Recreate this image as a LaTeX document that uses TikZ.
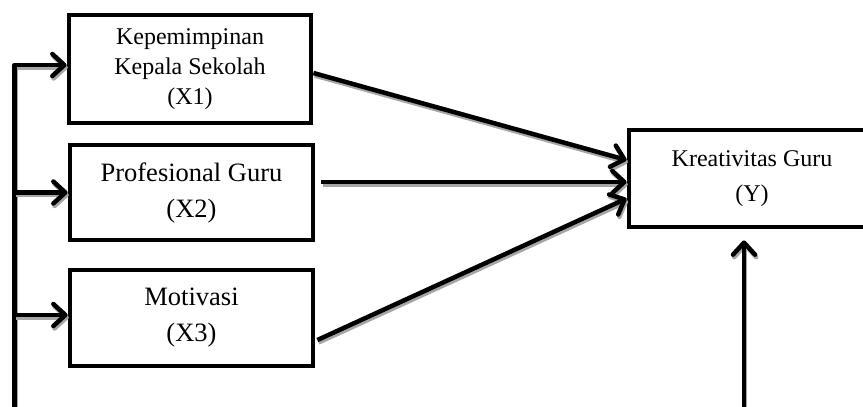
\documentclass[tikz,border=0pt]{standalone}
\usepackage{fontspec}
\setmainfont{Liberation Serif}
\usetikzlibrary{arrows.meta,calc}
\tikzset{
  box/.style={draw, line width=4.8pt, inner sep=0pt, align=center},
  ln/.style={line width=4.5pt, line join=round,
    -{Straight Barb[length=12pt,width=22pt,line cap=round,line join=round]}},
  shd/.style={ln, draw=black!35, transform canvas={shift={(1.2pt,-2.5pt)}}},
}
\newcommand\shdraw[1]{\draw[shd] #1; \draw[ln] #1;}
\begin{document}
\begin{tikzpicture}[x=1pt,y=-1pt]
\useasboundingbox (0,0) rectangle (863,407);
\node[box, minimum width=242pt, minimum height=108pt, font=\fontsize{24}{30}\selectfont] (x1) at (190,69) {Kepemimpinan\\Kepala Sekolah\\(X1)};
\node[box, minimum width=243pt, minimum height=95pt, font=\fontsize{26.5}{36}\selectfont] (x2) at (191.5,192.5) {Profesional Guru\\(X2)};
\node[box, minimum width=243pt, minimum height=96pt, font=\fontsize{26.5}{36}\selectfont] (x3) at (191.5,318) {Motivasi\\(X3)};
\node[box, minimum width=246pt, minimum height=97pt, font=\fontsize{24}{35}\selectfont] (y) at (752,178.5) {Kreativitas Guru\\(Y)};
\coordinate (l0) at (14.5,412);
\coordinate (r0) at (744,412);
\coordinate (a1) at ([yshift=4pt]x1.west);
\coordinate (a2) at (x2.west);
\coordinate (a3) at ([yshift=3pt]x3.west);
\coordinate (ys) at ([yshift=-11pt]y.south);
\shdraw{(l0) |- (a1)}
\shdraw{(l0 |- a2) -- (a2)}
\shdraw{(l0 |- a3) -- (a3)}
\shdraw{([yshift=-4pt]x1.east) -- ([yshift=18.5pt]y.west)}
\shdraw{([xshift=6pt,yshift=10.5pt]x2.east) -- ([yshift=-3.5pt]y.west)}
\shdraw{([xshift=2pt,yshift=-22pt]x3.east) -- ([yshift=-20pt]y.west)}
\shdraw{(r0) -- (r0 |- ys)}
\end{tikzpicture}
\end{document}
